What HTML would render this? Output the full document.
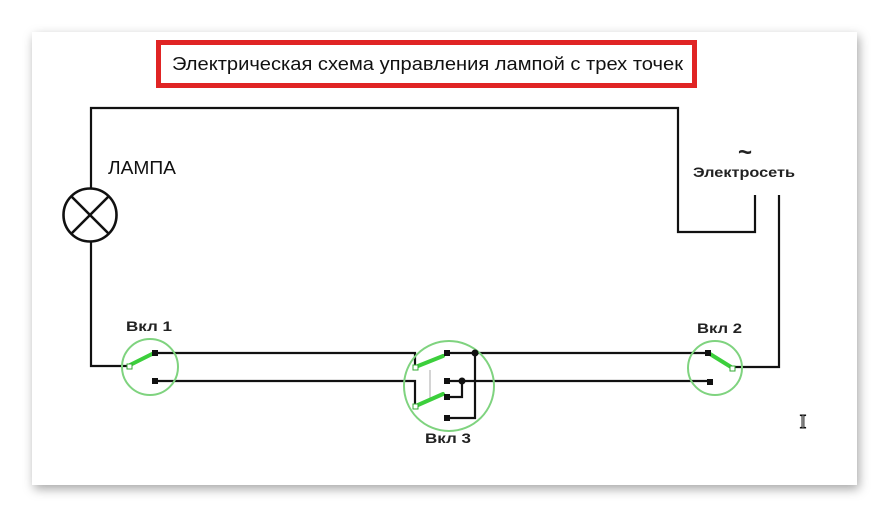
<!DOCTYPE html>
<html><head><meta charset="utf-8"><style>
html,body{margin:0;padding:0;background:#fff;}
body{width:889px;height:516px;overflow:hidden;position:relative;}
.card{position:absolute;left:32px;top:32px;width:825px;height:453px;background:#fff;box-shadow:2px 4px 10px rgba(0,0,0,0.35);}
svg{position:absolute;left:0;top:0;}
</style></head><body>
<div class="card"></div>
<svg width="889" height="516" viewBox="0 0 889 516" font-family="Liberation Sans, sans-serif">
<rect x="158.5" y="42.5" width="536" height="43" fill="#fff" stroke="#e02424" stroke-width="5"/>
<text x="172" y="70" font-size="18" fill="#111" textLength="511" lengthAdjust="spacingAndGlyphs">Электрическая схема управления лампой с трех точек</text>
<g fill="none" stroke="#111" stroke-width="2.2">
<polyline points="91,188 91,108 678,108 678,232 755,232 755,195"/>
<polyline points="779,195 779,367 733,367"/>
<polyline points="91,242 91,366 129,366"/>
<circle cx="90" cy="215" r="26.5" stroke-width="2.6"/>
<line x1="71" y1="196" x2="109" y2="234" stroke-width="2.6"/>
<line x1="109" y1="196" x2="71" y2="234" stroke-width="2.6"/>
<polyline points="155,353 415,353 415,367"/>
<polyline points="155,381 415,381 415,406"/>
<line x1="447" y1="353" x2="708" y2="353"/>
<line x1="447" y1="381" x2="710" y2="381"/>
<polyline points="475,353 475,418 447,418"/>
<polyline points="462,381 462,397 447,397"/>
</g>
<line x1="430" y1="370" x2="430" y2="400" stroke="#aaa" stroke-width="1"/>
<g fill="none" stroke="#7fd37f" stroke-width="2">
<circle cx="150" cy="367" r="28"/>
<circle cx="449" cy="386" r="45"/>
<circle cx="715" cy="368" r="27"/>
</g>
<g stroke="#3ccf3c" stroke-width="4" stroke-linecap="round">
<line x1="130" y1="365" x2="152" y2="354"/>
<line x1="418" y1="366" x2="443" y2="356"/>
<line x1="418" y1="405" x2="443" y2="394"/>
<line x1="710" y1="354" x2="731" y2="367"/>
</g>
<g fill="#111">
<rect x="152" y="350" width="6" height="6"/>
<rect x="152" y="378" width="6" height="6"/>
<rect x="444" y="350" width="6" height="6"/>
<rect x="444" y="378" width="6" height="6"/>
<rect x="444" y="394" width="6" height="6"/>
<rect x="444" y="415" width="6" height="6"/>
<circle cx="475" cy="353" r="3.5"/>
<circle cx="462" cy="381" r="3.5"/>
<rect x="705" y="350" width="6" height="6"/>
<rect x="707" y="379" width="6" height="6"/>
</g>
<g fill="#fff" stroke="#3a3" stroke-width="1">
<rect x="127" y="364" width="5" height="5"/>
<rect x="413" y="365" width="5" height="5"/>
<rect x="413" y="404" width="5" height="5"/>
<rect x="730" y="366" width="5" height="5"/>
</g>
<text x="108" y="174" font-size="18" fill="#111" textLength="68" lengthAdjust="spacingAndGlyphs">ЛАМПА</text>
<text x="126" y="331" font-size="14" font-weight="bold" fill="#222" textLength="46" lengthAdjust="spacingAndGlyphs">Вкл 1</text>
<text x="697" y="333" font-size="14" font-weight="bold" fill="#222" textLength="45" lengthAdjust="spacingAndGlyphs">Вкл 2</text>
<text x="425" y="443" font-size="14" font-weight="bold" fill="#222" textLength="46" lengthAdjust="spacingAndGlyphs">Вкл 3</text>
<text x="745" y="160" font-size="24" font-weight="bold" fill="#222" text-anchor="middle">~</text>
<text x="693" y="177" font-size="14" font-weight="bold" fill="#222" textLength="102" lengthAdjust="spacingAndGlyphs">Электросеть</text>
<text x="803" y="428" font-size="20" font-family="Liberation Serif, serif" fill="#fff" stroke="#111" stroke-width="1" text-anchor="middle">I</text>
</svg>
</body></html>
